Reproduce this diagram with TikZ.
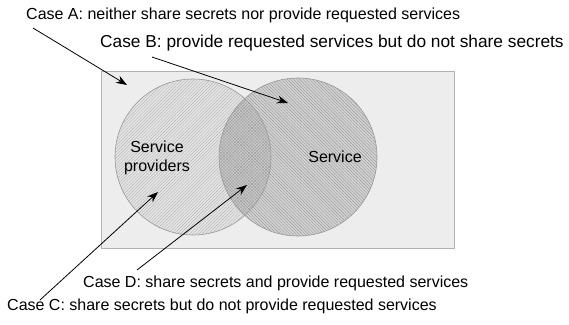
\documentclass[tikz,border=0pt]{standalone}
\usepackage{fontspec}
\setmainfont{Liberation Sans}
\usetikzlibrary{patterns.meta,arrows.meta}
\begin{document}
\begin{tikzpicture}[x=1pt,y=1pt,
  lbl/.style={anchor=west,inner sep=0pt,font=\fontsize{16}{18}\selectfont},
  arr/.style={line width=0.8pt,-{Stealth[length=11pt,width=8pt]}}]
\useasboundingbox (0,0) rectangle (569,324);
\fill[white] (0,0) rectangle (569,324);
\draw[fill=black!7,draw=black!30,line width=0.8pt] (101,76) rectangle (454,253);
% left circle
\fill[black!10] (193,167) circle (78);
\fill[pattern={Lines[angle=45,distance=2.2pt,line width=0.4pt]},pattern color=black!30] (193,167) circle (78);
% right circle
\fill[black!17] (298,167) circle (79);
\fill[pattern={Lines[angle=-45,distance=2.2pt,line width=0.4pt]},pattern color=black!42] (298,167) circle (79);
% intersection
\begin{scope}
\clip (193,167) circle (78);
\fill[black!20] (298,167) circle (79);
\fill[pattern={Lines[angle=45,distance=2.2pt,line width=0.4pt]},pattern color=black!38] (298,167) circle (79);
\fill[pattern={Lines[angle=-45,distance=2.2pt,line width=0.4pt]},pattern color=black!38] (298,167) circle (79);
\end{scope}
\draw[black!40,line width=0.6pt] (193,167) circle (78);
\draw[black!40,line width=0.6pt] (298,167) circle (79);
\node[align=center,inner sep=0pt,font=\fontsize{16}{19}\selectfont] (sp) at (157,166) {Service\\providers};
\node[inner sep=0pt,font=\fontsize{16}{18}\selectfont] (sv) at (335,167) {Service};
\node[lbl] (ca) at (26,309) {Case A: neither share secrets nor provide requested services};
\node[lbl,font=\fontsize{17.3}{19}\selectfont] (cb) at (100,281) {Case B: provide requested services but do not share secrets};
\node[lbl] (cd) at (83,41) {Case D: share secrets and provide requested services};
\node[lbl] (cc) at (7,18) {Case C: share secrets but do not provide requested services};
\coordinate (as) at (33,296); \coordinate (at) at (127,239);
\coordinate (bs) at (152,267); \coordinate (bt) at (288,221);
\coordinate (cs) at (40,24); \coordinate (ct) at (158,132);
\coordinate (ds) at (137,54); \coordinate (dt) at (247,139);
\draw[arr] (as) -- (at);
\draw[arr] (bs) -- (bt);
\draw[arr] (cs) -- (ct);
\draw[arr] (ds) -- (dt);
\end{tikzpicture}
\end{document}
